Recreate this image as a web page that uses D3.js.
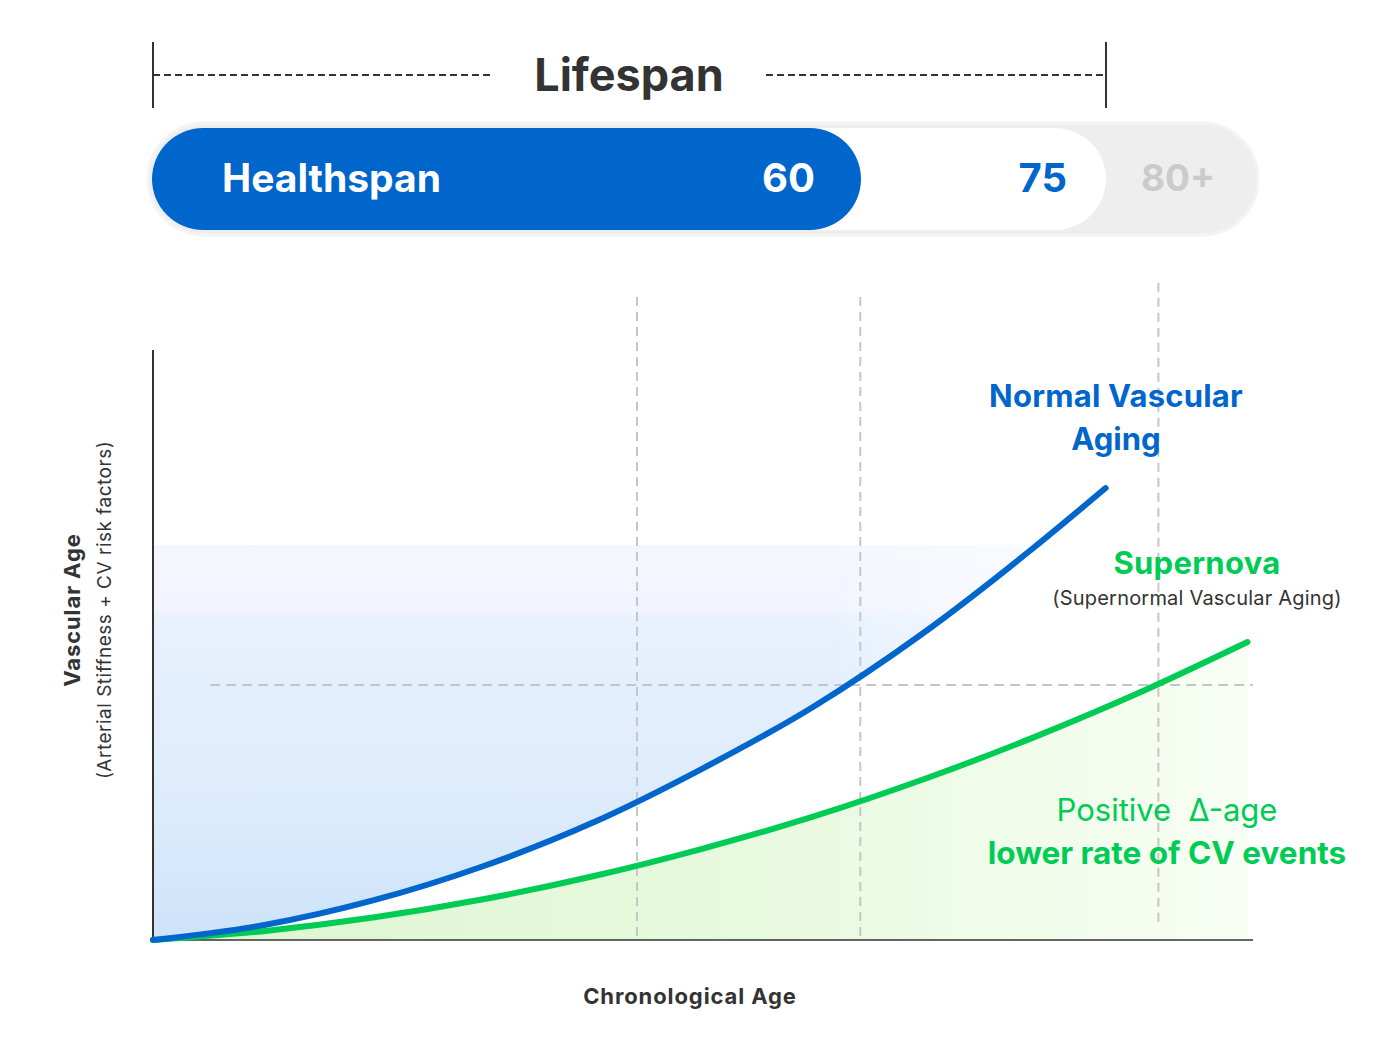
<!DOCTYPE html>
<html><head><meta charset="utf-8">
<script src="https://cdn.jsdelivr.net/npm/d3@7/dist/d3.min.js"></script>
<style>html,body{margin:0;padding:0;background:#fff;}svg{display:block;font-family:Inter,"Noto Sans",sans-serif;}</style>
</head><body>
<svg id="c" width="1400" height="1050"></svg>
<script>
// ---- data ----
const normalAges   = [0, 10, 20, 30, 40, 50, 60, 70, 80, 86.6];
const normalAging  = [0, 2.5, 6.7, 12.5, 19.9, 29.1, 39.5, 52.0, 66.4, 76.6];
const superAges    = [0, 10, 20, 30, 40, 50, 60, 70, 80, 90, 99.5];
const supernova    = [0, 1.5, 3.8, 6.9, 10.8, 15.5, 20.9, 27.2, 34.3, 42.2, 50.5];
const markerAges   = [44, 64.3, 91.4];
const markerTop    = [109, 109, 111.4];
const markerBottom = [0, 0, 2.5];
const refLevel     = 43.2;
const blueFillTop  = 66.9;
const spanYears    = [0, 60, 75, 85];
const spanLabels   = ["60", "75", "80+"];

const svg = d3.select("#c");
const defs = svg.append("defs");

const x = d3.scaleLinear().domain([0, 100]).range([153, 1253]);
const y = d3.scaleLinear().domain([0, 100]).range([940, 350]);
const bx = d3.scaleLinear().domain(spanYears).range([152, 861, 1106, 1257]);

const BLUE = "#0066cc", GREEN = "#00cc55";

// gradients
const gB = defs.append("linearGradient").attr("id","gB").attr("x1",0).attr("y1",0).attr("x2",0).attr("y2",1);
[[0,"#f6fdff"],[0.05,"#f4fbff"],[0.1,"#f7f7fe"],[0.35,"#f2f5fe"],[0.38,"#e8f1fd"],[0.75,"#dcebfc"],[1,"#cde3fa"]]
  .forEach(([o,c])=>gB.append("stop").attr("offset",o).attr("stop-color",c));
const gG = defs.append("linearGradient").attr("id","gG").attr("x1",0).attr("y1",0).attr("x2",1).attr("y2",0);
[[0,"#ddf6d2"],[0.5,"#e6f9dc"],[1,"#f8fef4"]]
  .forEach(([o,c])=>gG.append("stop").attr("offset",o).attr("stop-color",c));
const gFade = defs.append("linearGradient").attr("id","gFade").attr("x1",0).attr("y1",0).attr("x2",1).attr("y2",0);
[[0,"#fff",1],[0.75,"#fff",1],[1,"#fff",0.4]].forEach(([o,c,a])=>gFade.append("stop").attr("offset",o).attr("stop-color",c).attr("stop-opacity",a));
const mask = defs.append("mask").attr("id","mFade");
mask.append("rect").attr("x",x(0)).attr("y",0).attr("width",x(82)-x(0)).attr("height",1050).attr("fill","url(#gFade)");

defs.append("clipPath").attr("id","clipTop").append("rect")
  .attr("x", x(0)).attr("y", y(blueFillTop)).attr("width", x(100)-x(0)).attr("height", y(0)-y(blueFillTop));

const normalData = normalAges.map((a,i)=>({a, v: normalAging[i]}));
const superData  = superAges.map((a,i)=>({a, v: supernova[i]}));
const curve = d3.curveMonotoneX;

// blue fill above normal curve
svg.append("g").attr("clip-path","url(#clipTop)").attr("mask","url(#mFade)")
  .append("path")
  .datum(normalData)
  .attr("d", d3.area().curve(curve).x(d=>x(d.a)).y0(d=>y(d.v)).y1(y(blueFillTop+20)))
  .attr("fill","url(#gB)");

// green fill under supernova curve
svg.append("path").datum(superData)
  .attr("d", d3.area().curve(curve).x(d=>x(d.a)).y0(y(0)).y1(d=>y(d.v)))
  .attr("fill","url(#gG)");

// reference dashed lines
svg.append("line").attr("x1", x(5.2)).attr("x2", x(100)).attr("y1", y(refLevel)).attr("y2", y(refLevel))
  .attr("stroke","#c6c6c6").attr("stroke-width",2).attr("stroke-dasharray","10,6");
svg.selectAll(".vm").data(markerAges).join("line")
  .attr("x1", d=>x(d)).attr("x2", d=>x(d))
  .attr("y1", (d,i)=>y(markerTop[i])).attr("y2", (d,i)=>y(markerBottom[i]))
  .attr("stroke","#c6c6c6").attr("stroke-width",2).attr("stroke-dasharray","9,6");

// axes
svg.append("line").attr("x1",x(0)).attr("x2",x(0)).attr("y1",y(100)).attr("y2",y(0)).attr("stroke","#333").attr("stroke-width",2);
svg.append("line").attr("x1",x(0)).attr("x2",x(100)).attr("y1",y(0)).attr("y2",y(0)).attr("stroke","#333").attr("stroke-width",1.5);

// curves
svg.append("path").datum(superData)
  .attr("d", d3.line().curve(curve).x(d=>x(d.a)).y(d=>y(d.v)))
  .attr("fill","none").attr("stroke",GREEN).attr("stroke-width",6).attr("stroke-linecap","round");
svg.append("path").datum(normalData)
  .attr("d", d3.line().curve(curve).x(d=>x(d.a)).y(d=>y(d.v)))
  .attr("fill","none").attr("stroke",BLUE).attr("stroke-width",6).attr("stroke-linecap","round");

// ---- lifespan header ----
const ly = 75;
svg.append("line").attr("x1",bx(0)+1).attr("x2",bx(0)+1).attr("y1",42).attr("y2",108).attr("stroke","#333").attr("stroke-width",2);
svg.append("line").attr("x1",bx(75)).attr("x2",bx(75)).attr("y1",42).attr("y2",108).attr("stroke","#333").attr("stroke-width",2);
svg.append("line").attr("x1",bx(0)+1).attr("x2",490).attr("y1",ly).attr("y2",ly).attr("stroke","#333").attr("stroke-width",2).attr("stroke-dasharray","7,4");
svg.append("line").attr("x1",766).attr("x2",bx(75)).attr("y1",ly).attr("y2",ly).attr("stroke","#333").attr("stroke-width",2).attr("stroke-dasharray","7,4");
svg.append("text").attr("x",629).attr("y",91).attr("text-anchor","middle")
  .attr("font-size",45).attr("font-weight",700).attr("fill","#333").text("Lifespan");

// bar
const barTop = 128, barH = 102;
svg.append("rect").attr("x",bx(0)-4).attr("y",barTop-5).attr("width",bx(85)-bx(0)+5).attr("height",barH+10)
  .attr("rx",(barH+10)/2).attr("fill","#eeeeee").attr("stroke","#f4f4f4").attr("stroke-width",3);
svg.append("rect").attr("x",bx(0)).attr("y",barTop).attr("width",bx(75)-bx(0)).attr("height",barH)
  .attr("rx",barH/2).attr("fill","#ffffff");
svg.append("rect").attr("x",bx(0)).attr("y",barTop).attr("width",bx(60)-bx(0)).attr("height",barH)
  .attr("rx",barH/2).attr("fill",BLUE);
svg.append("text").attr("x",222).attr("y",192).attr("font-size",39).attr("font-weight",700).attr("fill","#fff").text("Healthspan");
svg.append("text").attr("x",bx(60)-46).attr("y",192).attr("text-anchor","end").attr("font-size",40).attr("font-weight",700).attr("fill","#fff").text(spanLabels[0]);
svg.append("text").attr("x",bx(75)-39).attr("y",192).attr("text-anchor","end").attr("font-size",40).attr("font-weight",700).attr("fill",BLUE).text(spanLabels[1]);
svg.append("text").attr("x",bx(85)-79).attr("y",191).attr("text-anchor","middle").attr("font-size",37).attr("font-weight",700).attr("fill","#cbcbcb").text(spanLabels[2]);

// ---- labels ----
const yl = svg.append("g").attr("transform","translate(80,610) rotate(-90)");
yl.append("text").attr("text-anchor","middle").attr("font-size",22).attr("font-weight",700).attr("letter-spacing",0.9).attr("fill","#333").text("Vascular Age");
yl.append("text").attr("y",31).attr("text-anchor","middle").attr("font-size",19).attr("letter-spacing",0.5).attr("fill","#333").text("(Arterial Stiffness + CV risk factors)");

svg.append("text").attr("x",690).attr("y",1004).attr("text-anchor","middle").attr("font-size",22).attr("font-weight",700).attr("letter-spacing",0.9).attr("fill","#333").text("Chronological Age");

svg.append("text").attr("x",1116).attr("y",407).attr("text-anchor","middle").attr("font-size",31).attr("font-weight",700).attr("letter-spacing",0.2).attr("fill",BLUE).text("Normal Vascular");
svg.append("text").attr("x",1116).attr("y",450).attr("text-anchor","middle").attr("font-size",31).attr("font-weight",700).attr("fill",BLUE).text("Aging");

svg.append("text").attr("x",1197).attr("y",574).attr("text-anchor","middle").attr("font-size",31).attr("font-weight",700).attr("letter-spacing",0.3).attr("fill",GREEN).text("Supernova");
svg.append("text").attr("x",1197).attr("y",605).attr("text-anchor","middle").attr("font-size",20).attr("letter-spacing",0.2).attr("fill","#333").text("(Supernormal Vascular Aging)");

svg.append("text").attr("x",1167).attr("y",821).attr("text-anchor","middle").attr("font-size",31).attr("fill",GREEN).attr("xml:space","preserve").text("Positive  Δ-age");
svg.append("text").attr("x",1167).attr("y",864).attr("text-anchor","middle").attr("font-size",31.5).attr("font-weight",700).attr("fill",GREEN).text("lower rate of CV events");
</script>
</body></html>
